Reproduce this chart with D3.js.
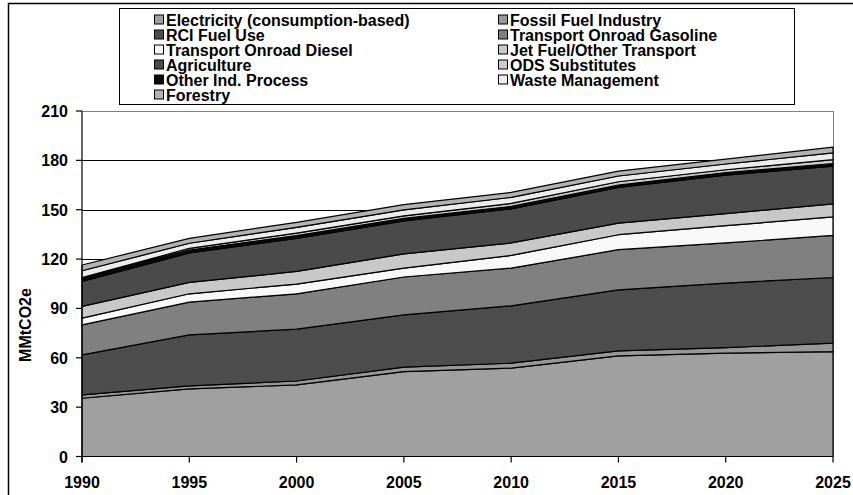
<!DOCTYPE html>
<html>
<head>
<meta charset="utf-8">
<script src="https://cdn.jsdelivr.net/npm/d3@7"></script>
<style>
  body { margin: 0; background: #fff; }
  text { font-family: "Liberation Sans", Arial, sans-serif; font-weight: bold; fill: #000; }
</style>
</head>
<body>
<svg id="chart"></svg>
<script>
var width = 853;
var height = 495;

// values in MMtCO2e
var years = [1990, 1995, 2000, 2005, 2010, 2015, 2020, 2025];
var electricity = [35.4, 41.1, 43.5, 51.6, 53.7, 61.2, 62.8, 63.8];
var fossilFuel  = [2.0, 1.8, 2.4, 2.7, 3.0, 3.0, 3.4, 5.1];
var rciFuel     = [24.4, 31.0, 31.5, 31.8, 34.9, 37.1, 39.2, 39.9];
var gasoline    = [18.2, 19.9, 21.5, 23.0, 22.9, 24.4, 24.4, 25.6];
var diesel      = [4.1, 5.1, 5.9, 5.4, 7.7, 9.1, 10.5, 11.2];
var jetFuel     = [7.1, 6.9, 7.7, 8.7, 7.6, 7.1, 7.3, 7.9];
var agriculture = [15.2, 17.9, 20.0, 20.0, 20.7, 21.6, 23.4, 23.0];
var otherInd    = [2.0, 1.8, 1.8, 1.6, 1.5, 1.5, 1.5, 1.6];
var ods         = [0.3, 1.0, 1.5, 1.5, 1.8, 2.0, 1.8, 2.3];
var waste       = [4.2, 3.1, 3.5, 3.6, 3.7, 3.5, 3.5, 4.1];
var forestry    = [3.5, 3.0, 3.0, 3.2, 3.0, 3.0, 3.0, 3.5];

var seriesNames = ["Electricity (consumption-based)", "Fossil Fuel Industry", "RCI Fuel Use",
  "Transport Onroad Gasoline", "Transport Onroad Diesel", "Jet Fuel/Other Transport",
  "Agriculture", "ODS Substitutes", "Other Ind. Process", "Waste Management", "Forestry"];
var seriesValues = [electricity, fossilFuel, rciFuel, gasoline, diesel, jetFuel,
  agriculture, ods, otherInd, waste, forestry];
// stacking order bottom -> top
var stackOrder = [0, 1, 2, 3, 4, 5, 6, 8, 7, 9, 10];
var colors = ["#a0a0a0", "#989898", "#4d4d4d", "#808080", "#f8f8f8", "#c8c8c8",
  "#4a4a4a", "#cccccc", "#0a0a0a", "#ececec", "#b2b2b2"];
var legendOrder = [0, 1, 2, 3, 4, 5, 6, 7, 8, 9, 10];
var yTicks = [0, 30, 60, 90, 120, 150, 180, 210];

var plotLeft = 82, plotRight = 833, plotTop = 111, plotBottom = 456.5;

var svg = d3.select("#chart")
    .attr("width", width)
    .attr("height", height);

// outer frame (runs past the picture on right / bottom)
svg.append("rect")
  .attr("x", 8.5).attr("y", 3.5)
  .attr("width", 900).attr("height", 600)
  .attr("fill", "none").attr("stroke", "#000").attr("stroke-width", 1.5);

var xScale = d3.scaleLinear().domain([1990, 2025]).range([plotLeft, plotRight]);
var yScale = d3.scaleLinear().domain([0, 210]).range([plotBottom, plotTop]);

// gridlines
svg.append("g").selectAll("line")
  .data(yTicks.filter(function(d) { return d > 0 && d < 210; }))
  .enter().append("line")
  .attr("x1", plotLeft).attr("x2", plotRight)
  .attr("y1", function(d) { return Math.round(yScale(d)) + 0.5; })
  .attr("y2", function(d) { return Math.round(yScale(d)) + 0.5; })
  .attr("stroke", "#000").attr("stroke-width", 1);

// plot area border top/right
svg.append("path")
  .attr("d", "M" + plotLeft + "," + (plotTop + 0.5) + "H" + (plotRight + 0.5) + "V" + plotBottom)
  .attr("fill", "none").attr("stroke", "#808080").attr("stroke-width", 1);

var table = years.map(function(y, i) {
  var row = { year: y };
  seriesNames.forEach(function(n, k) { row[n] = seriesValues[k][i]; });
  return row;
});

var stack = d3.stack().keys(stackOrder.map(function(k) { return seriesNames[k]; }));
var layers = stack(table);

var area = d3.area()
  .x(function(d) { return xScale(d.data.year); })
  .y0(function(d) { return yScale(d[0]); })
  .y1(function(d) { return yScale(d[1]); });

svg.append("g").selectAll("path")
  .data(layers)
  .enter().append("path")
  .attr("d", area)
  .attr("fill", function(d) { return colors[seriesNames.indexOf(d.key)]; })
  .attr("stroke", "#000")
  .attr("stroke-width", 1.2)
  .attr("stroke-linejoin", "round");

// y axis
var yAxis = svg.append("g").attr("transform", "translate(" + plotLeft + ",0)");
yAxis.append("line").attr("x1", 0).attr("x2", 0).attr("y1", plotTop).attr("y2", plotBottom + 6)
  .attr("stroke", "#000").attr("stroke-width", 1.2);
yAxis.selectAll("line.tick").data(yTicks).enter().append("line")
  .attr("class", "tick")
  .attr("x1", -6).attr("x2", 0)
  .attr("y1", function(d) { return yScale(d); })
  .attr("y2", function(d) { return yScale(d); })
  .attr("stroke", "#000").attr("stroke-width", 1.2);
yAxis.selectAll("text").data(yTicks).enter().append("text")
  .attr("x", -14)
  .attr("y", function(d) { return yScale(d) + 6; })
  .attr("text-anchor", "end")
  .attr("font-size", 16)
  .text(function(d) { return d; });

// x axis
var xAxis = svg.append("g").attr("transform", "translate(0," + plotBottom + ")");
xAxis.append("line").attr("x1", plotLeft).attr("x2", plotRight).attr("y1", 0).attr("y2", 0)
  .attr("stroke", "#000").attr("stroke-width", 1.2);
xAxis.selectAll("line.tick").data(years).enter().append("line")
  .attr("class", "tick")
  .attr("x1", function(d) { return xScale(d); })
  .attr("x2", function(d) { return xScale(d); })
  .attr("y1", 0).attr("y2", 6)
  .attr("stroke", "#000").attr("stroke-width", 1.2);
xAxis.selectAll("text").data(years).enter().append("text")
  .attr("x", function(d) { return xScale(d); })
  .attr("y", 31)
  .attr("text-anchor", "middle")
  .attr("font-size", 16)
  .text(function(d) { return d; });

// y axis title
svg.append("text")
  .attr("transform", "translate(31,325) rotate(-90)")
  .attr("text-anchor", "middle")
  .attr("font-size", 16)
  .text("MMtCO2e");

// legend
var legend = svg.append("g");
legend.append("rect")
  .attr("x", 119.5).attr("y", 8.5)
  .attr("width", 675).attr("height", 96)
  .attr("fill", "#fff").attr("stroke", "#000").attr("stroke-width", 1);

var items = legend.selectAll("g.item")
  .data(legendOrder)
  .enter().append("g")
  .attr("class", "item")
  .attr("transform", function(d, i) {
    var col = i % 2, row = Math.floor(i / 2);
    return "translate(" + (col === 0 ? 154 : 498) + "," + (19.5 + row * 15) + ")";
  });
items.append("rect")
  .attr("x", 0.5).attr("y", -4.5)
  .attr("width", 9).attr("height", 9)
  .attr("fill", function(d) { return colors[d]; })
  .attr("stroke", "#000").attr("stroke-width", 1);
items.append("text")
  .attr("x", 12)
  .attr("y", 6)
  .attr("font-size", 16)
  .text(function(d) { return seriesNames[d]; });
</script>
</body>
</html>
